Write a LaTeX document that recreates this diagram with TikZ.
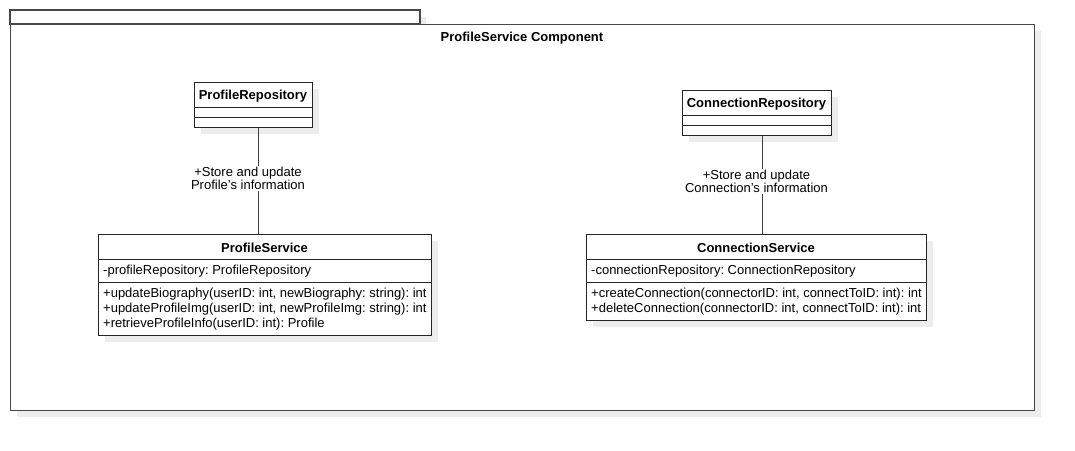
\documentclass[tikz,border=0pt]{standalone}
\usepackage{fontspec}
\setmainfont{Liberation Sans}
\frenchspacing
\begin{document}
\begin{tikzpicture}[x=1pt,y=-1pt,
  every node/.style={font=\fontsize{13}{13}\selectfont, inner sep=0pt},
  umlbox/.style={draw=black!85, fill=white, line width=1pt, anchor=north west, inner sep=0pt},
  shadowbox/.style={fill=black!7, draw=none},
  ttl/.style={font=\fontsize{13}{13}\selectfont\bfseries, anchor=center},
  mem/.style={anchor=west},
  assoc/.style={draw=black!75, line width=1pt},
  lbl/.style={fill=white, align=center, font=\fontsize{13}{13}\selectfont, inner sep=1pt},
  frame/.style={draw=black!72, line width=1.4pt, fill=white}
]
\useasboundingbox (0,0) rectangle (1075,450);
% package frame
\fill[black!7] (17,31) rectangle (1041,417);
\fill[black!7] (420,17) rectangle (426,24);
\draw[frame] (10,10) rectangle (420,24);
\node[frame, anchor=north west, minimum width=1024, minimum height=386] (pkg) at (10,24) {};
\node[ttl] (pkgtitle) at (522,38.5) {ProfileService Component};

% ProfileRepository
\fill[shadowbox] (201,89) rectangle (319,134);
\node[umlbox, minimum width=118, minimum height=45] (prepo) at (194,82) {};
\draw[black!85, line width=1pt] (194,107) -- (312,107) (194,117) -- (312,117);
\node[ttl] (prepot) at (253,96) {ProfileRepository};

% ConnectionRepository
\fill[shadowbox] (689,97) rectangle (838,142);
\node[umlbox, minimum width=149, minimum height=45] (crepo) at (682,90) {};
\draw[black!85, line width=1pt] (682,115) -- (831,115) (682,125) -- (831,125);
\node[ttl] (crepot) at (756.5,104) {ConnectionRepository};

% ProfileService
\fill[shadowbox] (105,241) rectangle (438,342);
\node[umlbox, minimum width=333, minimum height=101] (psvc) at (98,234) {};
\draw[black!85, line width=1pt] (98,259) -- (431,259) (98,282) -- (431,282);
\node[ttl] (psvct) at (264.5,248) {ProfileService};
\node[mem] (psa) at (103,271) {-profileRepository: ProfileRepository};
\node[mem] (psm1) at (103,294) {+updateBiography(userID: int, newBiography: string): int};
\node[mem] (psm2) at (103,309) {+updateProfileImg(userID: int, newProfileImg: string): int};
\node[mem] (psm3) at (103,324) {+retrieveProfileInfo(userID: int): Profile};

% ConnectionService
\fill[shadowbox] (593,241) rectangle (933,327);
\node[umlbox, minimum width=340, minimum height=86] (csvc) at (586,234) {};
\draw[black!85, line width=1pt] (586,259) -- (926,259) (586,282) -- (926,282);
\node[ttl] (csvct) at (756,248) {ConnectionService};
\node[mem] (csa) at (591,271) {-connectionRepository: ConnectionRepository};
\node[mem] (csm1) at (591,294) {+createConnection(connectorID: int, connectToID: int): int};
\node[mem] (csm2) at (591,309) {+deleteConnection(connectorID: int, connectToID: int): int};

% associations
\draw[assoc] ([xshift=5pt]prepo.south) -- ([xshift=5pt]prepo.south |- psvc.north);
\node[lbl] (l1) at (248,178.5) {+Store and update\\Profile’s information};
\draw[assoc] ([xshift=5.5pt]crepo.south) -- ([xshift=5.5pt]crepo.south |- csvc.north);
\node[lbl] (l2) at (756.5,181.5) {+Store and update\\Connection’s information};
\end{tikzpicture}
\end{document}
